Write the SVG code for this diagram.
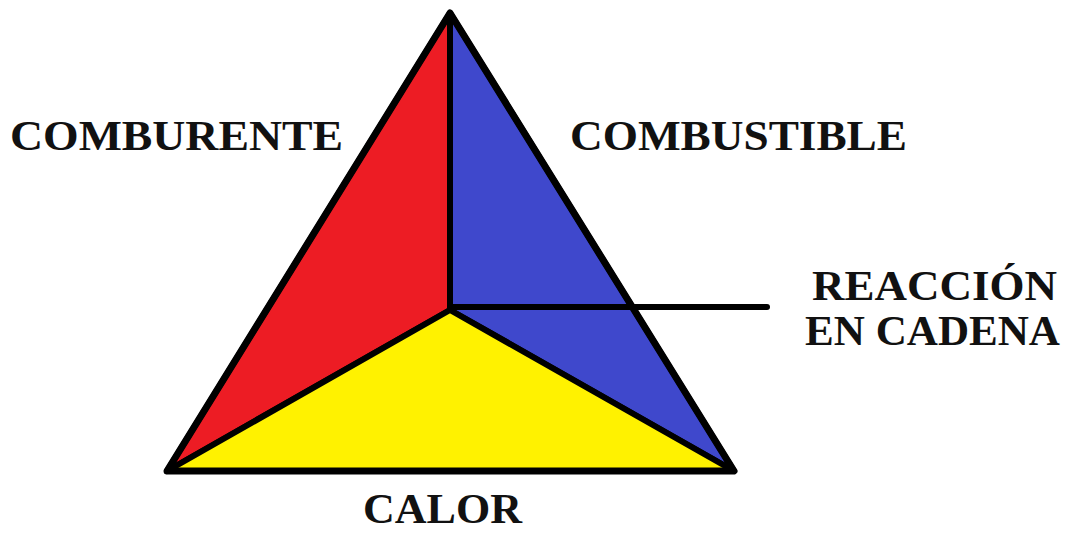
<svg xmlns="http://www.w3.org/2000/svg" width="1073" height="533" viewBox="0 0 1073 533">
<style>
.lbl{font-family:"Liberation Serif","Times New Roman",serif;font-weight:bold;font-size:43px;fill:#111}
.face{stroke:#000;stroke-width:6;stroke-linejoin:round}
.conn{stroke:#000;stroke-width:6;fill:none;stroke-linecap:round}
</style>
<rect width="1073" height="533" fill="#fff"/>
<g id="comburente">
<polygon class="face" fill="#ED1C24" points="450,13 450,310 167,471"/>
<text class="lbl" x="10" y="150" textLength="333" lengthAdjust="spacingAndGlyphs">COMBURENTE</text>
</g>
<g id="combustible">
<polygon class="face" fill="#3F48CC" points="450,13 734,471 450,310"/>
<text class="lbl" x="570" y="150" textLength="337" lengthAdjust="spacingAndGlyphs">COMBUSTIBLE</text>
</g>
<g id="calor">
<polygon class="face" fill="#FFF200" points="167,471 450,310 734,471"/>
<text class="lbl" x="363" y="523" textLength="159" lengthAdjust="spacingAndGlyphs">CALOR</text>
</g>
<g id="reaccion">
<text class="lbl" x="812" y="300" textLength="245" lengthAdjust="spacingAndGlyphs">REACCIÓN</text>
<text class="lbl" x="805" y="345" textLength="255" lengthAdjust="spacingAndGlyphs">EN CADENA</text>
</g>
<g id="connectors">
<line class="conn" x1="452" y1="307" x2="767" y2="307"/>
<polygon points="450,13 734,471 167,471" fill="none" stroke="#000" stroke-width="7" stroke-linejoin="round"/>
</g>
</svg>
